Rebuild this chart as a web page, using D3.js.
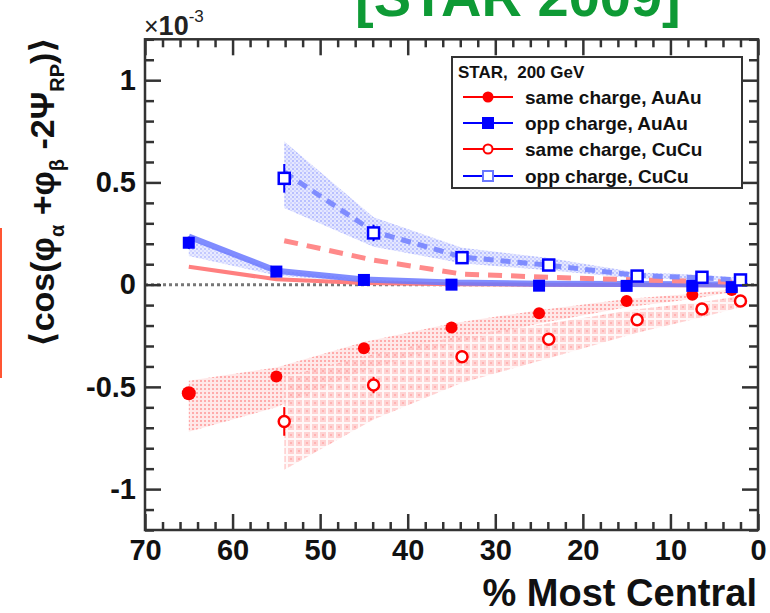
<!DOCTYPE html>
<html>
<head>
<meta charset="utf-8">
<script src="https://cdn.jsdelivr.net/npm/d3@7"></script>
<style>
  html, body { margin: 0; padding: 0; background: #fff; }
  svg { display: block; font-family: "Liberation Sans", Arial, "DejaVu Sans", sans-serif; }
</style>
</head>
<body>
<div id="chart"></div>
<script>
const width = 770;
const height = 613;

// AuAu (filled markers), x = % most central
const auCent = [65, 55, 45, 35, 25, 15, 7.5, 3];
const auSame = [-0.531, -0.449, -0.311, -0.21, -0.14, -0.08, -0.05, -0.026];
const auSameErr = [0.03, 0.015, 0.012, 0.01, 0.01, 0.01, 0.01, 0.01];
const auOpp = [0.205, 0.064, 0.023, 0.0, -0.005, -0.006, -0.006, -0.012];
const auOppErr = [0.03, 0.015, 0.012, 0.01, 0.01, 0.01, 0.01, 0.01];
const auSameHi = [-0.47, -0.405, -0.28, -0.19, -0.125, -0.07, -0.044, -0.022];
const auSameLo = [-0.72, -0.6, -0.42, -0.29, -0.19, -0.11, -0.07, -0.036];
const auOppHi = [0.225, 0.07, 0.026, 0.008, 0.002, 0.0, 0.0, -0.005];
const auOppLo = [0.14, 0.045, 0.012, -0.004, -0.008, -0.008, -0.008, -0.014];

// CuCu (open markers)
const cuCent = [54.1, 43.9, 33.8, 23.9, 13.8, 6.4, 2.0];
const cuSame = [-0.669, -0.491, -0.353, -0.267, -0.172, -0.119, -0.08];
const cuSameErr = [0.07, 0.04, 0.03, 0.02, 0.015, 0.012, 0.01];
const cuOpp = [0.52, 0.253, 0.132, 0.096, 0.042, 0.036, 0.023];
const cuOppErr = [0.07, 0.04, 0.025, 0.02, 0.015, 0.012, 0.01];
const cuSameHi = [-0.45, -0.34, -0.25, -0.19, -0.12, -0.085, -0.055];
const cuSameLo = [-0.905, -0.66, -0.48, -0.36, -0.235, -0.16, -0.11];
const cuOppHi = [0.7, 0.33, 0.18, 0.13, 0.06, 0.048, 0.032];
const cuOppLo = [0.375, 0.185, 0.105, 0.07, 0.03, 0.025, 0.016];

// curves
const auOppCurve = [0.235, 0.068, 0.025, 0.01, 0.005, 0.003, 0.002, 0.001];
const auSameCurve = [0.088, 0.026, 0.008, 0.002, 0.0, -0.002, -0.003, -0.003];
const cuSameCurve = [0.215, 0.12, 0.052, 0.036, 0.023, 0.016, 0.011];
const cuOppCurve = [0.55, 0.26, 0.135, 0.095, 0.045, 0.033, 0.022];

const xMajor = [70, 60, 50, 40, 30, 20, 10, 0];
const yMajor = [-1, -0.5, 0, 0.5, 1];
const legendLabels = ["same charge, AuAu", "opp charge, AuAu", "same charge, CuCu", "opp charge, CuCu"];

const RED = "#ff0000";
const BLUE = "#0000ff";

const svg = d3.select("#chart").append("svg")
  .attr("width", width).attr("height", height)
  .attr("viewBox", `0 0 ${width} ${height}`);

const x = d3.scaleLinear().domain([70, 0]).range([145, 758]);
const y = d3.scaleLinear().domain([-1.2, 1.2]).range([530, 39.3]);

const defs = svg.append("defs");

// dotted pink (AuAu same)
const pDot = defs.append("pattern").attr("id", "dotRed")
  .attr("width", 4).attr("height", 4).attr("patternUnits", "userSpaceOnUse");
pDot.append("rect").attr("width", 4).attr("height", 4).attr("fill", "#ffe4e4");
pDot.append("rect").attr("width", 2).attr("height", 2).attr("fill", "#ff9c9c");

// cross-hatched pink (CuCu same)
const pGrid = defs.append("pattern").attr("id", "gridRed")
  .attr("width", 8).attr("height", 8).attr("patternUnits", "userSpaceOnUse");
pGrid.append("rect").attr("width", 8).attr("height", 8).attr("fill", "#ffc4c4");
pGrid.append("rect").attr("x", 6).attr("width", 2).attr("height", 8).attr("fill", "#fff4f4");
pGrid.append("rect").attr("y", 6).attr("width", 8).attr("height", 2).attr("fill", "#fff4f4");
pGrid.append("rect").attr("x", 2).attr("y", 2).attr("width", 2).attr("height", 2).attr("fill", "#ff9a9a");

// speckled blue (CuCu opp / AuAu opp)
const pBlue = defs.append("pattern").attr("id", "dotBlue")
  .attr("width", 4).attr("height", 4).attr("patternUnits", "userSpaceOnUse");
pBlue.append("rect").attr("width", 4).attr("height", 4).attr("fill", "#dfe2ff");
pBlue.append("rect").attr("width", 2).attr("height", 2).attr("fill", "#a8b0ff");
pBlue.append("rect").attr("x", 2).attr("y", 2).attr("width", 2).attr("height", 2).attr("fill", "#c4c9ff");

// green title, cut off at top
svg.append("text")
  .attr("x", 355).attr("y", 16)
  .attr("font-size", 56).attr("font-weight", "bold")
  .attr("fill", "#0e9a35")
  .text("[STAR 2009]");

// red edge on the left
svg.append("rect").attr("x", 0).attr("y", 228).attr("width", 2).attr("height", 150).attr("fill", "#ff5533");

// bands
const band = (cent, hi, lo) => d3.area()
  .x((d, i) => x(cent[i]))
  .y0((d, i) => y(lo[i]))
  .y1((d, i) => y(hi[i]))(cent);

svg.append("path").attr("d", band(auCent, auSameHi, auSameLo))
  .attr("fill", "url(#dotRed)").attr("opacity", 0.85);
svg.append("path").attr("d", band(cuCent, cuSameHi, cuSameLo))
  .attr("fill", "url(#gridRed)").attr("opacity", 0.75);
svg.append("path").attr("d", band(cuCent, cuOppHi, cuOppLo))
  .attr("fill", "url(#dotBlue)").attr("opacity", 0.8);
svg.append("path").attr("d", band(auCent, auOppHi, auOppLo))
  .attr("fill", "url(#dotBlue)").attr("opacity", 0.7);

// zero line
svg.append("line")
  .attr("x1", x(70)).attr("x2", x(0)).attr("y1", y(0)).attr("y2", y(0))
  .attr("stroke", "#777").attr("stroke-width", 3).attr("stroke-dasharray", "3,3");

// curves
const curve = (cent, vals) => d3.line().x((d, i) => x(cent[i])).y(d => y(d))(vals);

svg.append("path").attr("d", curve(auCent, auSameCurve))
  .attr("fill", "none").attr("stroke", "#ff7f7f").attr("stroke-width", 4);
svg.append("path").attr("d", curve(auCent, auOppCurve))
  .attr("fill", "none").attr("stroke", "#6a78ff").attr("stroke-width", 6).attr("opacity", 0.85);
svg.append("path").attr("d", curve(cuCent, cuSameCurve))
  .attr("fill", "none").attr("stroke", "#ff8a8a").attr("stroke-width", 5).attr("stroke-dasharray", "14,9");
svg.append("path").attr("d", curve(cuCent, cuOppCurve))
  .attr("fill", "none").attr("stroke", "#7f8cff").attr("stroke-width", 5).attr("stroke-dasharray", "10,7");

// error bars
function errBars(cent, vals, errs, color) {
  svg.append("g").selectAll("line").data(vals).join("line")
    .attr("x1", (d, i) => x(cent[i])).attr("x2", (d, i) => x(cent[i]))
    .attr("y1", (d, i) => y(d + errs[i])).attr("y2", (d, i) => y(d - errs[i]))
    .attr("stroke", color).attr("stroke-width", 2);
}
errBars(auCent, auSame, auSameErr, RED);
errBars(auCent, auOpp, auOppErr, BLUE);
errBars(cuCent, cuSame, cuSameErr, RED);
errBars(cuCent, cuOpp, cuOppErr, BLUE);

// markers
svg.append("g").selectAll("circle").data(auSame).join("circle")
  .attr("cx", (d, i) => x(auCent[i])).attr("cy", d => y(d)).attr("r", (d, i) => i === 0 ? 7 : 6).attr("fill", RED);
svg.append("g").selectAll("rect").data(auOpp).join("rect")
  .attr("x", (d, i) => x(auCent[i]) - 6).attr("y", d => y(d) - 6)
  .attr("width", 12).attr("height", 12).attr("fill", BLUE);
svg.append("g").selectAll("circle").data(cuSame).join("circle")
  .attr("cx", (d, i) => x(cuCent[i])).attr("cy", d => y(d)).attr("r", 5.5)
  .attr("fill", "#fff").attr("stroke", RED).attr("stroke-width", 2.5);
svg.append("g").selectAll("rect").data(cuOpp).join("rect")
  .attr("x", (d, i) => x(cuCent[i]) - 5.5).attr("y", d => y(d) - 5.5)
  .attr("width", 11).attr("height", 11)
  .attr("fill", "#fff").attr("stroke", BLUE).attr("stroke-width", 2.5);

// axes
const xMinor = d3.range(0, 71, 2).filter(d => d % 10 !== 0);
const yMinor = d3.range(-12, 13, 1).filter(d => d % 5 !== 0).map(d => d / 10);

function styleAxis(sel) {
  sel.select(".domain").remove();
  sel.selectAll("line").attr("stroke", "#333").attr("stroke-width", 2.5);
  sel.selectAll("text").attr("fill", "#111").attr("font-weight", "bold").attr("font-size", 29)
    .attr("font-family", "'Liberation Sans', Arial, sans-serif");
}

svg.append("g").attr("transform", `translate(0,${y(-1.2)})`)
  .call(d3.axisBottom(x).tickValues(xMajor).tickSize(-16).tickPadding(9).tickFormat(d => d))
  .call(styleAxis);
svg.append("g").attr("transform", `translate(0,${y(-1.2)})`)
  .call(d3.axisBottom(x).tickValues(xMinor).tickSize(-8).tickFormat(""))
  .call(styleAxis);
svg.append("g").attr("transform", `translate(0,${y(1.2)})`)
  .call(d3.axisTop(x).tickValues(xMajor).tickSize(-16).tickFormat(""))
  .call(styleAxis);
svg.append("g").attr("transform", `translate(0,${y(1.2)})`)
  .call(d3.axisTop(x).tickValues(xMinor).tickSize(-8).tickFormat(""))
  .call(styleAxis);

svg.append("g").attr("transform", `translate(${x(70)},0)`)
  .call(d3.axisLeft(y).tickValues(yMajor).tickSize(-16).tickPadding(9).tickFormat(d => String(d)))
  .call(styleAxis);
svg.append("g").attr("transform", `translate(${x(70)},0)`)
  .call(d3.axisLeft(y).tickValues(yMinor).tickSize(-9).tickFormat(""))
  .call(styleAxis);
svg.append("g").attr("transform", `translate(${x(0)},0)`)
  .call(d3.axisRight(y).tickValues(yMajor).tickSize(-16).tickFormat(""))
  .call(styleAxis);
svg.append("g").attr("transform", `translate(${x(0)},0)`)
  .call(d3.axisRight(y).tickValues(yMinor).tickSize(-9).tickFormat(""))
  .call(styleAxis);

// frame
svg.append("rect")
  .attr("x", x(70)).attr("y", y(1.2))
  .attr("width", x(0) - x(70)).attr("height", y(-1.2) - y(1.2))
  .attr("fill", "none").attr("stroke", "#333").attr("stroke-width", 2.5);

// exponent label
const expo = svg.append("text").attr("x", 144).attr("y", 35).attr("fill", "#222");
expo.append("tspan").attr("font-size", 25).text("×");
expo.append("tspan").attr("font-size", 27).attr("font-weight", "bold").text("10");
expo.append("tspan").attr("font-size", 17).attr("dy", -13).text("-3");

// axis titles
svg.append("text")
  .attr("x", 757).attr("y", 606)
  .attr("text-anchor", "end")
  .attr("font-size", 38).attr("font-weight", "bold").attr("fill", "#111")
  .text("% Most Central");

const yt = svg.append("text")
  .attr("transform", "translate(54,192) rotate(-90)")
  .attr("text-anchor", "middle")
  .attr("font-size", 34).attr("font-weight", "bold").attr("fill", "#111");
yt.append("tspan").text("⟨cos(φ");
yt.append("tspan").attr("font-size", 20).attr("dy", 10).text("α");
yt.append("tspan").attr("dy", -10).text(" +φ");
yt.append("tspan").attr("font-size", 20).attr("dy", 10).text("β");
yt.append("tspan").attr("dy", -10).text(" -2Ψ");
yt.append("tspan").attr("font-size", 20).attr("dy", 10).text("RP");
yt.append("tspan").attr("dy", -10).text(")⟩");

// legend
const lg = svg.append("g");
lg.append("rect").attr("x", 452).attr("y", 57).attr("width", 290).attr("height", 131)
  .attr("fill", "#fff").attr("stroke", "#333").attr("stroke-width", 2);
lg.append("text").attr("x", 458).attr("y", 78)
  .attr("font-size", 17).attr("font-weight", "bold").attr("fill", "#111")
  .attr("xml:space", "preserve")
  .text("STAR,  200 GeV");

const rowY = [97, 123, 149, 176];
const legendColors = [RED, BLUE, RED, BLUE];
legendLabels.forEach((lab, i) => {
  const cy = rowY[i];
  lg.append("line").attr("x1", 463).attr("x2", 513).attr("y1", cy).attr("y2", cy)
    .attr("stroke", legendColors[i]).attr("stroke-width", 2);
  if (i === 0) {
    lg.append("circle").attr("cx", 488).attr("cy", cy).attr("r", 5.5).attr("fill", RED);
  } else if (i === 1) {
    lg.append("rect").attr("x", 482).attr("y", cy - 6).attr("width", 12).attr("height", 12).attr("fill", BLUE);
  } else if (i === 2) {
    lg.append("circle").attr("cx", 488).attr("cy", cy).attr("r", 4.5)
      .attr("fill", "#fff").attr("stroke", RED).attr("stroke-width", 2);
  } else {
    lg.append("rect").attr("x", 483).attr("y", cy - 5).attr("width", 10).attr("height", 10)
      .attr("fill", "#fff").attr("stroke", "#6a78ff").attr("stroke-width", 2);
  }
  lg.append("text").attr("x", 525).attr("y", cy + 7)
    .attr("font-size", 19).attr("font-weight", "bold").attr("fill", "#111")
    .text(lab);
});
</script>
</body>
</html>
